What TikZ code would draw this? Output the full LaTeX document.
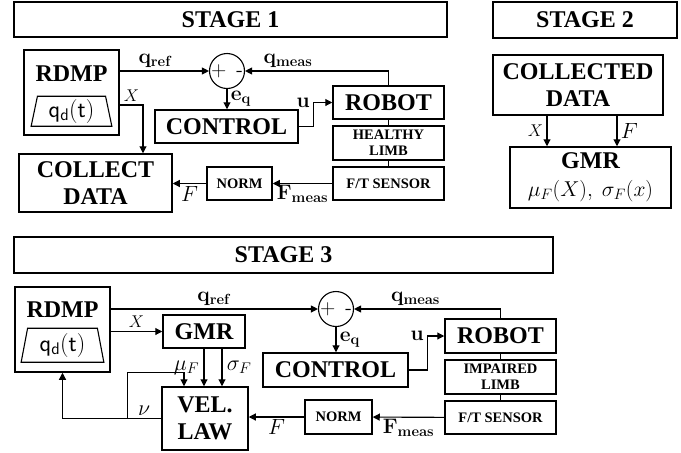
\RequirePackage{fix-cm}
\documentclass[tikz,border=0pt]{standalone}
\usepackage[no-math]{fontspec}
\setmainfont{Liberation Serif}
\usetikzlibrary{positioning,arrows.meta,shapes.geometric}

\begin{document}
\begin{tikzpicture}[x=1pt, y=-1pt,
  stagebox/.style={draw, line width=1.5pt, inner sep=0pt,
                   font=\fontsize{24}{25}\selectfont\bfseries},
  blk/.style={draw, line width=1.5pt, inner sep=0pt, align=center,
              font=\fontsize{24}{27}\selectfont\bfseries},
  sblk/.style={draw, line width=1.5pt, inner sep=0pt, align=center,
               font=\fontsize{14.5}{16}\selectfont\bfseries},
  rdmptxt/.style={font=\fontsize{24}{27}\selectfont\bfseries},
  sumj/.style={draw, circle, line width=1.1pt, minimum size=35pt, inner sep=0pt,
               font=\fontsize{21}{21}\selectfont\sffamily},
  trap/.style={draw, trapezium, trapezium left angle=80, trapezium right angle=80,
               trapezium stretches=true, line width=1.1pt, inner sep=0pt,
               font=\fontsize{24}{24}\selectfont},
  arr/.style={-{Triangle[length=7pt,width=7pt]}, line width=1.1pt},
  ln/.style={line width=1.1pt},
  lab/.style={font=\fontsize{21}{21}\selectfont},
  ilab/.style={font=\fontsize{22}{22}\selectfont},
  xlab/.style={font=\fontsize{17}{17}\selectfont},
  ]
  \useasboundingbox (0,0) rectangle (681,453);

  % stage 1
  \node[stagebox, minimum width=433pt, minimum height=35pt] (st1) at (230.5,19.5) {STAGE 1};
  \node[blk, minimum width=95pt, minimum height=85pt] (rdmp1) at (71.5,92.5) {};
  \node[rdmptxt] (rdmpt1) at ([yshift=-24pt]rdmp1.north) {RDMP};
  \node[trap, minimum width=81pt, minimum height=30pt] (qd1) at ([yshift=-62pt]rdmp1.north) {$\mathsf{q_d(t)}$};
  \node[sumj] (sum1) at (227,71) {+\hspace{10pt}-};
  \node[blk, minimum width=143pt, minimum height=33pt] (ctrl1) at (226.5,126.5) {CONTROL};
  \node[blk, minimum width=111pt, minimum height=33pt] (robot1) at (388.5,102.5) {ROBOT};
  \node[sblk, minimum width=111pt, minimum height=34pt] (limb1) at (388.5,143) {HEALTHY\\LIMB};
  \node[sblk, minimum width=111pt, minimum height=33pt] (ft1) at (388.5,183.5) {F/T SENSOR};
  \node[sblk, minimum width=65pt, minimum height=33pt] (norm1) at (239.5,183.5) {NORM};
  \node[blk, minimum width=153pt, minimum height=58pt] (coll1) at (95.5,183) {COLLECT\\DATA};
  \coordinate (xc1) at (143,105);

  \draw[arr] (rdmp1.east |- sum1) -- node[lab, above, pos=0.4] {$\mathbf{q}_{\mathbf{ref}}$} (sum1);
  \draw[arr] (robot1.north) |- node[lab, above, pos=0.85] {$\mathbf{q}_{\mathbf{meas}}$} (sum1);
  \draw[arr] (sum1) -- node[lab, right] {$\mathbf{e}_{\mathbf{q}}$} (ctrl1.north -| sum1);
  \draw[arr] (ctrl1.east) -- ++(15,0) |- node[lab, left] {$\mathbf{u}$} (robot1.west);
  \draw[ln] (robot1) -- (limb1);
  \draw[ln] (limb1) -- (ft1);
  \draw[arr] (ft1) -- node[lab, below=-2pt] {$\mathbf{F}_{\mathbf{meas}}$} (norm1);
  \draw[arr] (norm1) -- node[ilab, below=-1pt] {$F$} (coll1.east |- norm1);
  \draw[arr] (rdmp1.east |- xc1) -- node[xlab, above] {$X$} (xc1) -- (xc1 |- coll1.north);

  % stage 2
  \node[stagebox, minimum width=184pt, minimum height=36pt] (st2) at (585,20) {STAGE 2};
  \node[blk, minimum width=170pt, minimum height=60pt] (cdata) at (578,85) {COLLECTED\\DATA};
  \node[blk, minimum width=161pt, minimum height=61pt] (gmr2) at (590.5,177.5)
    {GMR\\[1pt]{\fontsize{21.5}{22}\selectfont $\mu_F(X),\ \sigma_F(x)$}};

  \draw[arr] ([xshift=-31pt]cdata.south) -- node[xlab, left] {$X$} ([xshift=-31pt]cdata.south |- gmr2.north);
  \draw[arr] ([xshift=39pt]cdata.south) -- node[ilab, right] {$F$} ([xshift=39pt]cdata.south |- gmr2.north);

  % stage 3
  \node[stagebox, minimum width=539pt, minimum height=36pt] (st3) at (283.5,255) {STAGE 3};
  \node[blk, minimum width=95pt, minimum height=85pt] (rdmp3) at (62.5,329.5) {};
  \node[rdmptxt] (rdmpt3) at ([yshift=-23pt]rdmp3.north) {RDMP};
  \node[trap, minimum width=83pt, minimum height=34pt] (qd3) at ([yshift=-59pt]rdmp3.north) {$\mathsf{q_d(t)}$};
  \node[sumj] (sum3) at (336,309) {+\hspace{10pt}-};
  \node[blk, minimum width=82pt, minimum height=33pt] (gmr3) at (204,331.5) {GMR};
  \node[blk, minimum width=145pt, minimum height=34pt] (ctrl3) at (335.5,370) {CONTROL};
  \node[blk, minimum width=111pt, minimum height=34pt] (robot3) at (500.5,336) {ROBOT};
  \node[sblk, minimum width=111pt, minimum height=34pt] (limb3) at (500.5,377) {IMPAIRED\\LIMB};
  \node[sblk, minimum width=111pt, minimum height=33pt] (ft3) at (500.5,417.5) {F/T SENSOR};
  \node[sblk, minimum width=67pt, minimum height=34pt] (norm3) at (338.5,417) {NORM};
  \node[blk, minimum width=86pt, minimum height=63pt] (vel3) at (205,418.5) {VEL.\\LAW};
  \coordinate (br3) at ([xshift=-34pt]vel3.west);

  \draw[arr] (rdmp3.east |- sum3) -- node[lab, above] {$\mathbf{q}_{\mathbf{ref}}$} (sum3);
  \draw[arr] (rdmp3.east |- gmr3) -- node[xlab, above] {$X$} (gmr3);
  \draw[arr] (robot3.north) |- node[lab, above, pos=0.79] {$\mathbf{q}_{\mathbf{meas}}$} (sum3);
  \draw[arr] (sum3) -- node[lab, right] {$\mathbf{e}_{\mathbf{q}}$} (ctrl3.north -| sum3);
  \draw[arr] (ctrl3.east) -- ++(19,0) |- node[lab, left] {$\mathbf{u}$} (robot3.west);
  \draw[ln] (robot3) -- (limb3);
  \draw[ln] (limb3) -- (ft3);
  \draw[arr] (ft3) -- node[lab, below=-2pt] {$\mathbf{F}_{\mathbf{meas}}$} (norm3);
  \draw[arr] (norm3) -- node[ilab, below=-1pt] {$F$} (vel3.east |- norm3);
  \draw[arr] (gmr3.south) -- node[ilab, left=1pt] {$\mu_F$} (gmr3.south |- vel3.north);
  \draw[arr] ([xshift=18pt]gmr3.south) -- node[ilab, right=1pt] {$\sigma_F$} ([xshift=18pt]gmr3.south |- vel3.north);
  \draw[arr] (vel3.west) -- node[ilab, above=-1pt] {$\nu$} (br3) -| (rdmp3.south);
  \draw[arr] (br3) |- ([xshift=-21pt, yshift=14pt]vel3.north) -- ([xshift=-21pt]vel3.north);
\end{tikzpicture}
\end{document}
